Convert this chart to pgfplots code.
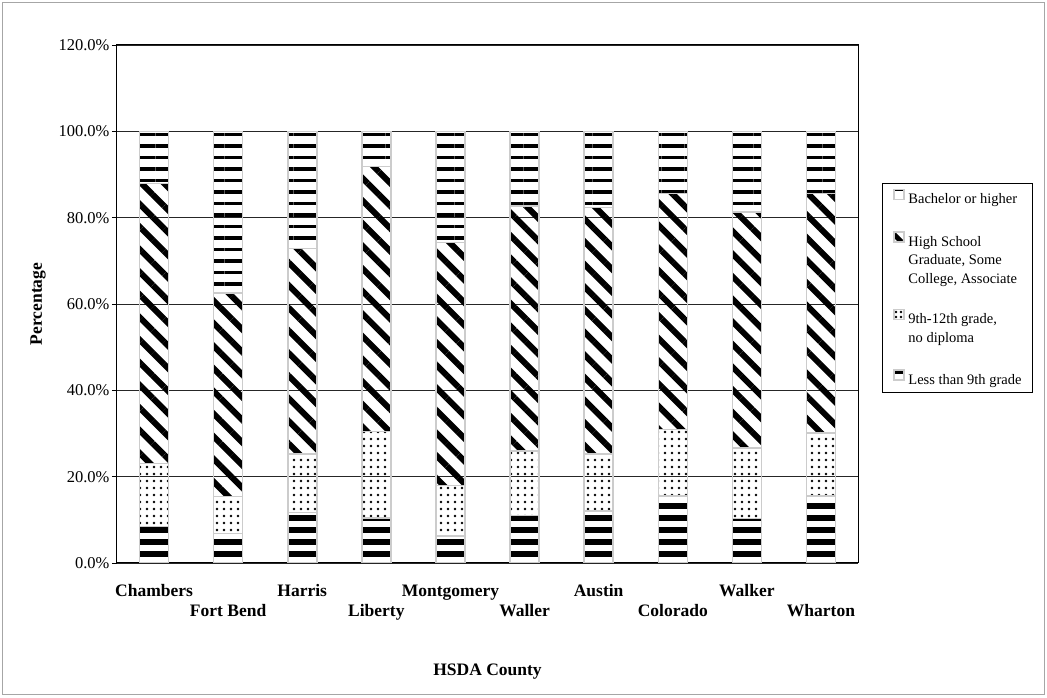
\documentclass[border=0pt]{standalone}
\usepackage{fontspec}
\setmainfont{Liberation Serif}
\usepackage{pgfplots}
\pgfplotsset{compat=1.18}
\usetikzlibrary{patterns.meta}

\newcommand\legimgA{\draw[draw=gray!40, line width=1.2pt, pattern color=black, pattern={Lines[angle=0, distance=12pt, line width=5pt, yshift=2pt]}] (0pt,0pt) rectangle (10pt,10pt);}
\newcommand\legimgB{\draw[draw=gray!40, line width=1.2pt, pattern color=black, pattern={Dots[distance=5pt, radius=1.3pt, xshift=1pt, yshift=1pt]}] (0pt,9.25pt) rectangle (10pt,19.25pt);}
\newcommand\legimgC{\draw[draw=gray!40, line width=1.2pt, pattern color=black, pattern={Lines[angle=-45, distance=10pt, line width=5pt]}] (0pt,18.5pt) rectangle (10pt,28.5pt);}
\newcommand\legimgD{\draw[draw=gray!40, line width=1.2pt, pattern color=black, pattern={Lines[angle=0, distance=12pt, line width=2.5pt, yshift=4pt]}] (0pt,0pt) rectangle (10pt,10pt);}

\begin{document}
\begin{tikzpicture}[x=1pt,y=1pt]
\useasboundingbox (0,0) rectangle (1047,698);
\draw[gray!70, line width=1pt] (2.5,3) rectangle (1044.5,695);
\begin{axis}[
  at={(117pt,135pt)}, anchor=south west,
  width=741pt, height=518pt, scale only axis,
  ybar stacked, bar width=29pt,
  xmin=-0.5, xmax=9.5, ymin=0, ymax=120,
  ytick={0,20,...,120},
  /pgf/number format/assume math mode=true,
  yticklabel={\pgfmathprintnumber[fixed,fixed zerofill,precision=1]{\tick}\%},
  yticklabel style={font=\fontsize{16.5}{18}\selectfont, xshift=1pt},
  xtick={0,...,9},
  xticklabels={{\strut Chambers\\\strut},{\strut\\\strut Fort Bend},{\strut Harris\\\strut},{\strut\\\strut Liberty},{\strut Montgomery\\\strut},{\strut\\\strut Waller},{\strut Austin\\\strut},{\strut\\\strut Colorado},{\strut Walker\\\strut},{\strut\\\strut Wharton}},
  xticklabel style={align=center, font=\fontsize{17.5}{20}\selectfont\bfseries, yshift=-11pt},
  major x tick style={draw=none},
  extra x ticks={-0.5,0.5,1.5,2.5,3.5,4.5,5.5,6.5,7.5,8.5,9.5},
  extra x tick labels={},
  extra x tick style={major tick length=5pt, tick style={draw=black, line width=0.8pt}, grid=none},
  tick align=outside, tick pos=left,
  major tick length=5pt,
  ytick style={draw=black, line width=0.8pt},
  ymajorgrids, grid style={black!85, line width=0.8pt},
  axis line style={black, line width=1pt},
  ylabel={Percentage},
  ylabel style={at={(axis description cs:-0.1066,0.5)}, anchor=center, font=\fontsize{17.5}{20}\selectfont\bfseries},
  xlabel={HSDA County},
  xlabel style={at={(axis description cs:0.5,-0.2104)}, anchor=center, font=\fontsize{17.5}{20}\selectfont\bfseries},
  legend style={at={(axis description cs:1.0324,0.7336)}, anchor=north west, draw=black, line width=0.8pt,
    font=\fontsize{14.5}{18.5}\selectfont, row sep=22pt, inner xsep=9pt, inner ysep=5pt, column sep=0pt,
    nodes={align=left, line width=0.4pt, inner xsep=2pt}, cells={anchor=base west}},
  legend cell align=left,
  reverse legend,
  every axis plot/.append style={draw=gray!40, line width=1.5pt, pattern color=black},
]
\addplot[pattern={Lines[angle=0, distance=12pt, line width=6pt]},
  legend image code/.code={\legimgA}] coordinates {
(0,8.4) (1,6.8) (2,11.7) (3,10.4) (4,6.2) (5,11.0) (6,12.0) (7,15.5) (8,10.3) (9,15.5)};
\addlegendentry{Less than 9th grade}
\addplot[pattern={Dots[distance=7pt, radius=1.4pt]},
  legend image code/.code={\legimgB}] coordinates {
(0,14.6) (1,8.6) (2,13.5) (3,20.1) (4,11.8) (5,14.9) (6,13.2) (7,15.4) (8,16.3) (9,14.6)};
\addlegendentry{9th-12th grade,\\no diploma}
\addplot[pattern={Lines[angle=-45, distance=16pt, line width=6pt]},
  legend image code/.code={\legimgC}] coordinates {
(0,64.9) (1,47.2) (2,47.7) (3,61.4) (4,56.3) (5,56.8) (6,57.1) (7,54.7) (8,54.7) (9,55.5)};
\addlegendentry{High School\\Graduate, Some\\College, Associate}
\addplot[pattern={Lines[angle=0, distance=11.5pt, line width=3.3pt]},
  legend image code/.code={\legimgD}] coordinates {
(0,12.1) (1,37.4) (2,27.1) (3,8.1) (4,25.7) (5,17.3) (6,17.7) (7,14.4) (8,18.7) (9,14.4)};
\addlegendentry{Bachelor or higher}
\end{axis}
\end{tikzpicture}
\end{document}
